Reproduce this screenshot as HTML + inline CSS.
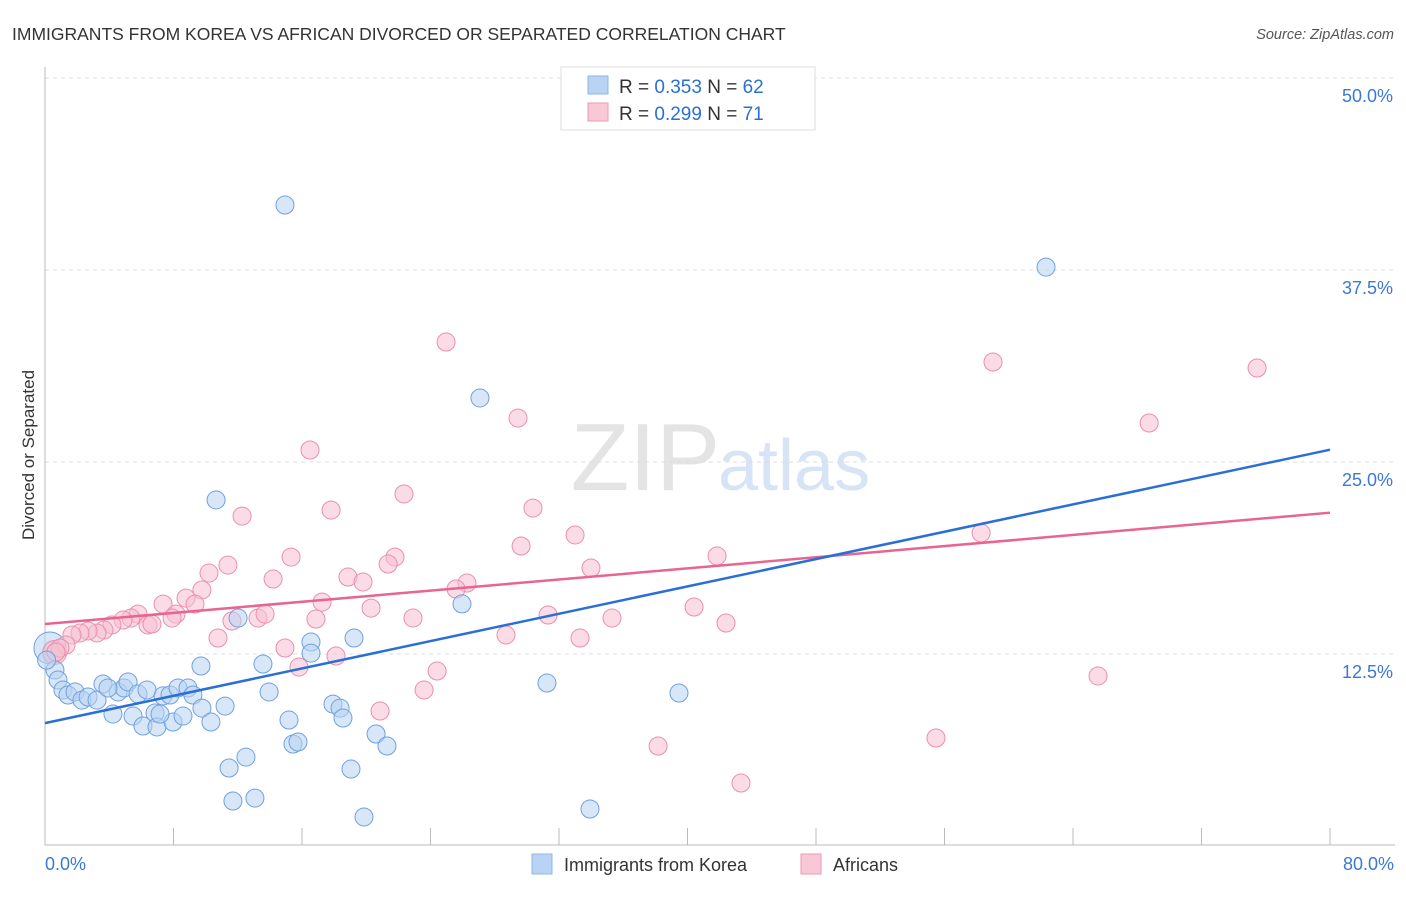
<!DOCTYPE html>
<html><head><meta charset="utf-8"><style>
body{margin:0;background:#fff;font-family:"Liberation Sans",sans-serif;}
svg text{font-family:"Liberation Sans",sans-serif;}
</style></head><body>
<svg id="chart" width="1406" height="892" xmlns="http://www.w3.org/2000/svg">
<text x="12" y="40" font-size="17.5" fill="#333">IMMIGRANTS FROM KOREA VS AFRICAN DIVORCED OR SEPARATED CORRELATION CHART</text>
<text x="1394" y="39" font-size="14.5" fill="#555" text-anchor="end" font-style="italic">Source: ZipAtlas.com</text>
<text x="720" y="490" font-size="96" fill="#e4e4e4" text-anchor="end" font-family="Liberation Serif">ZIP</text>
<text x="718" y="490" font-size="72" fill="#d6e4f5">atlas</text>
<text transform="translate(34,455) rotate(-90)" font-size="17" fill="#333" text-anchor="middle">Divorced or Separated</text>
<g id="grid"></g>
<g id="pts"></g>
<g id="lines"></g>
<g>
<rect x="561" y="67" width="254" height="63" fill="#fff" stroke="#ddd"/>
<rect x="588" y="76" width="20" height="18" fill="#b8d3f3" stroke="#8fb5e6"/>
<rect x="588" y="103" width="20" height="18" fill="#f8c8d6" stroke="#ee9ab4"/>
<text x="619" y="93" font-size="19" fill="#333">R = <tspan fill="#2a6fd6">0.353</tspan>   N = <tspan fill="#2a6fd6">62</tspan></text>
<text x="619" y="120" font-size="19" fill="#333">R = <tspan fill="#2a6fd6">0.299</tspan>   N =  <tspan fill="#2a6fd6">71</tspan></text>
</g>
<g>
<rect x="532" y="854" width="20" height="20" fill="#b8d3f3" stroke="#8fb5e6"/>
<text x="564" y="871" font-size="18" fill="#333">Immigrants from Korea</text>
<rect x="801" y="854" width="20" height="20" fill="#f8c8d6" stroke="#ee9ab4"/>
<text x="833" y="871" font-size="18" fill="#333">Africans</text>
</g>
</svg>
<script>
const yTicks=[12.5,25,37.5,50];
const yTickLabels=["12.5%","25.0%","37.5%","50.0%"];
const xTickLabels=["0.0%","80.0%"];
const koreaX=[14.94,62.32,27.08,10.65,25.96,12.02,16.56,19.24,16.56,0.62,0.81,1.12,1.43,1.87,2.30,2.68,3.24,3.61,4.23,4.55,4.92,5.17,5.48,5.79,6.10,6.35,6.85,6.97,7.35,7.78,7.97,8.28,8.59,8.90,9.21,9.71,9.77,10.33,11.21,13.57,13.95,15.19,15.44,15.75,11.46,12.51,17.93,18.37,18.55,20.61,21.29,19.05,11.70,13.07,19.86,31.25,33.93,39.47,3.92,7.16,0.1];
const koreaY=[41.73,37.69,29.17,22.53,15.76,14.84,13.28,13.54,12.56,11.46,10.81,10.16,9.83,10.03,9.50,9.70,9.50,10.55,8.59,10.03,10.29,10.68,8.46,9.90,7.81,10.16,8.66,7.75,9.77,9.83,8.07,10.29,8.46,10.29,9.83,11.72,8.98,8.07,9.11,11.85,10.03,8.20,6.64,6.77,5.08,5.79,9.24,8.98,8.33,7.29,6.51,5.01,2.93,3.12,1.89,10.61,2.41,9.96,10.29,8.59,12.1];
const africanX=[24.97,59.02,75.46,29.45,68.74,16.50,22.35,12.27,17.81,30.38,29.64,33.00,58.28,15.32,11.39,41.84,21.79,10.21,14.20,18.86,19.80,33.99,21.36,26.27,25.59,9.77,8.78,9.34,7.35,5.79,5.35,4.86,4.17,3.67,3.24,2.68,2.18,1.68,1.31,0.93,0.68,8.16,7.91,6.41,6.66,11.64,13.26,13.70,17.25,16.87,20.30,22.91,31.32,35.30,40.41,42.40,10.77,14.94,15.81,18.12,28.70,33.31,24.41,23.60,20.86,65.56,38.17,55.47,43.33];
const africanY=[32.81,31.51,31.12,27.86,27.54,25.78,22.92,21.48,21.87,22.00,19.53,20.25,20.38,18.81,18.29,18.88,18.81,17.77,17.38,17.51,17.19,18.10,18.36,17.12,16.73,16.67,16.14,15.75,15.75,15.10,14.84,14.71,14.39,14.06,13.87,14.00,13.87,13.74,13.09,12.89,12.63,15.10,14.84,14.39,14.45,14.65,14.84,15.10,15.88,14.78,15.49,14.84,15.04,14.84,15.56,14.52,13.54,12.89,11.65,12.37,13.74,13.54,11.39,10.16,8.79,11.07,6.51,7.03,4.10];
const koreaBig=[[0.31,12.89]];
const africanBig=[[0.6,12.6]];
const koreaTrend=[8.0,25.8];
const africanTrend=[14.45,21.7];
const NS="http://www.w3.org/2000/svg";
const X=v=>45+v/80*1285;
const Y=v=>846-v/12.5*192;
function mk(tag,attrs,parent){const e=document.createElementNS(NS,tag);for(const k in attrs)e.setAttribute(k,attrs[k]);parent.appendChild(e);return e;}
const grid=document.getElementById('grid');
yTicks.forEach((t,i)=>{
 const l=mk('line',{x1:45,x2:1395,y1:Y(t),y2:Y(t),stroke:'#ddd','stroke-dasharray':'4,4'},grid);
 
 
 const tx=mk('text',{x:1393,y:Y(t)+24,'font-size':18,fill:'#3b78d8','text-anchor':'end'},grid);
 tx.textContent=yTickLabels[i];
 
 
});
const ax=mk('path',{d:'M45,67 V845 H1395',stroke:'#bbb',fill:'none'},grid);


for(let i=0;i<=10;i++){
 const tk=mk('line',{x1:X(i*8),x2:X(i*8),y1:828,y2:845,stroke:'#bbb'},grid);
 
 
}
[[0,'start',45],[80,'end',1394]].forEach((d,i)=>{
 const tx=mk('text',{x:d[2],y:870,'font-size':18,fill:'#3b78d8','text-anchor':d[1]},grid);
 tx.textContent=xTickLabels[i];
 
 
});
const pts=document.getElementById('pts');
function draw(xs,ys,fill,stroke,name){
 xs.forEach((x,i)=>{
  const c=mk('circle',{cx:X(x),cy:Y(ys[i]),r:9,fill:fill,'fill-opacity':0.55,stroke:stroke,'stroke-width':1},pts);
  
  
 });
}
koreaBig.forEach(p=>{
 const c=mk('circle',{cx:X(p[0]),cy:Y(p[1]),r:16,fill:'#b8d3f3','fill-opacity':0.55,stroke:'#6fa0e0'},pts);
 
 
});
africanBig.forEach(p=>{
 const c=mk('circle',{cx:X(p[0]),cy:Y(p[1]),r:12,fill:'#f4b6c9','fill-opacity':0.55,stroke:'#ea8fac'},pts);
 
 
});
draw(africanX,africanY,'#f7c0d1','#ea8fac','african-point');
draw(koreaX,koreaY,'#b8d3f3','#6fa0e0','korea-point');
const lines=document.getElementById('lines');
const l1=mk('line',{x1:X(0),y1:Y(africanTrend[0]),x2:X(80),y2:Y(africanTrend[1]),stroke:'#e8658f','stroke-width':2.5},lines);


const l2=mk('line',{x1:X(0),y1:Y(koreaTrend[0]),x2:X(80),y2:Y(koreaTrend[1]),stroke:'#2a6fd6','stroke-width':2.5},lines);


</script>
</body></html>
